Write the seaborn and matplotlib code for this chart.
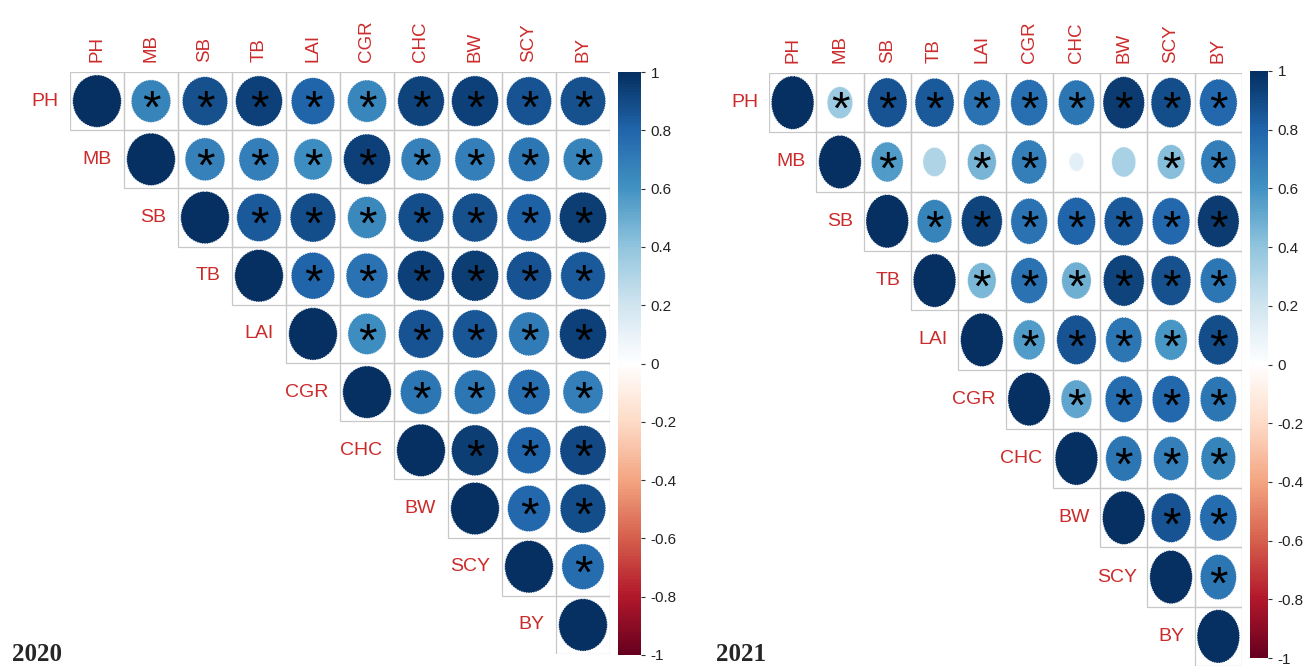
import numpy as np
import pandas as pd
import matplotlib
matplotlib.use("Agg")
import matplotlib.pyplot as plt
from matplotlib.colors import LinearSegmentedColormap, ListedColormap, Normalize
from matplotlib.cm import ScalarMappable
from matplotlib.patches import Circle, Rectangle
import seaborn as sns

# Trait abbreviations
traits = ["PH", "MB", "SB", "TB", "LAI", "CGR", "CHC", "BW", "SCY", "BY"]

# Upper-triangle Pearson correlations (row i, columns i+1 .. end)
r_2020 = [
    [0.66, 0.87, 0.93, 0.80, 0.65, 0.92, 0.93, 0.86, 0.87],
    [0.67, 0.68, 0.62, 0.93, 0.67, 0.68, 0.72, 0.66],
    [0.84, 0.88, 0.64, 0.88, 0.87, 0.82, 0.94],
    [0.80, 0.74, 0.93, 0.94, 0.86, 0.84],
    [0.62, 0.86, 0.85, 0.70, 0.93],
    [0.72, 0.72, 0.75, 0.68],
    [0.94, 0.80, 0.90],
    [0.78, 0.88],
    [0.76],
]
r_2021 = [
    [0.36, 0.86, 0.84, 0.74, 0.75, 0.72, 0.95, 0.88, 0.78],
    [0.56, 0.30, 0.46, 0.68, 0.12, 0.32, 0.42, 0.68],
    [0.66, 0.92, 0.74, 0.80, 0.84, 0.78, 0.95],
    [0.45, 0.74, 0.48, 0.92, 0.87, 0.72],
    [0.56, 0.86, 0.72, 0.58, 0.88],
    [0.52, 0.76, 0.78, 0.72],
    [0.72, 0.68, 0.66],
    [0.86, 0.76],
    [0.72],
]
# Pairs that are not significant at p < 0.05
ns_2020 = []
ns_2021 = [("MB", "TB"), ("MB", "CHC"), ("MB", "BW")]

# Colorbar tick values
cbar_ticks = [-1, -0.8, -0.6, -0.4, -0.2, 0, 0.2, 0.4, 0.6, 0.8, 1]

# Diverging palette used for the correlation scale
rdbu = ["#67001F", "#B2182B", "#D6604D", "#F4A582", "#FDDBC7", "#FFFFFF",
        "#D1E5F0", "#92C5DE", "#4393C3", "#2166AC", "#053061"]
cmap = LinearSegmentedColormap.from_list("corr_rdbu", rdbu, N=200)
norm = Normalize(-1, 1)

label_color = "#cc2b2b"
sans = ["Liberation Sans", "DejaVu Sans"]


def full_matrix(upper):
    n = len(traits)
    m = np.eye(n)
    for i, row in enumerate(upper):
        for k, v in enumerate(row):
            j = i + 1 + k
            m[i, j] = m[j, i] = v
    return pd.DataFrame(m, index=traits, columns=traits)


def corr_panel(ax, cax, upper, ns_pairs):
    df = full_matrix(upper)
    n = len(traits)
    lower = np.tril(np.ones((n, n), dtype=bool), k=-1)
    # white background cells for the upper triangle
    sns.heatmap(df, mask=lower, cmap=ListedColormap(["white"]), cbar=False,
                linewidths=0, ax=ax, xticklabels=False, yticklabels=False)
    ax.set_xlim(0, n)
    ax.set_ylim(n, 0)
    ax.set_xlabel("")
    ax.set_ylabel("")
    ns_set = {frozenset(p) for p in ns_pairs}
    for i in range(n):
        for j in range(i, n):
            ax.add_patch(Rectangle((j, i), 1, 1, facecolor="none",
                                   edgecolor="#c8c8c8", linewidth=0.9, zorder=2))
            r = df.iloc[i, j]
            rad = 0.45 * np.sqrt(abs(r))
            ax.add_patch(Circle((j + 0.5, i + 0.5), rad, facecolor=cmap(norm(r)),
                                edgecolor="white", linewidth=0.6,
                                linestyle=(0, (1.5, 1.5)), zorder=3))
            if i != j and frozenset((traits[i], traits[j])) not in ns_set:
                ax.text(j + 0.5, i + 0.66, "*", ha="center", va="center",
                        fontsize=34, family=sans, color="black", zorder=4)
    for k, t in enumerate(traits):
        ax.text(k + 0.5, -0.17, t, rotation=90, ha="center", va="bottom",
                fontsize=13.5, family=sans, color=label_color, clip_on=False)
        ax.text(k - 0.22, k + 0.5, t, ha="right", va="center",
                fontsize=14, family=sans, color=label_color, clip_on=False)
    for s in ax.spines.values():
        s.set_visible(False)
    sm = ScalarMappable(norm=norm, cmap=cmap)
    cb = plt.colorbar(sm, cax=cax, ticks=cbar_ticks)
    cb.ax.set_yticklabels([("%g" % v) for v in cbar_ticks])
    cb.outline.set_visible(False)
    cb.ax.tick_params(length=3, width=0.8, color="#333333", labelsize=11,
                      labelcolor="#222222", pad=4)
    for lab in cb.ax.get_yticklabels():
        lab.set_family(sans)


sns.set_theme(style="white")
W, H = 1303, 667
fig = plt.figure(figsize=(W / 100, H / 100), dpi=100)


def px_axes(x0, y0, x1, y1):
    return fig.add_axes([x0 / W, 1 - y1 / H, (x1 - x0) / W, (y1 - y0) / H])


ax1 = px_axes(70, 72, 610, 654)
cax1 = px_axes(618, 72, 641, 655)
ax2 = px_axes(769, 73, 1242, 666)
cax2 = px_axes(1250, 71, 1268, 658)

corr_panel(ax1, cax1, r_2020, ns_2020)
corr_panel(ax2, cax2, r_2021, ns_2021)

serif = ["Liberation Serif", "DejaVu Serif"]
fig.text(12 / W, 1 - 661 / H, "2020", fontsize=18, fontweight="bold",
         family=serif, ha="left", va="baseline")
fig.text(716 / W, 1 - 661 / H, "2021", fontsize=18, fontweight="bold",
         family=serif, ha="left", va="baseline")

fig.savefig("out.png", dpi=100, facecolor="white")
